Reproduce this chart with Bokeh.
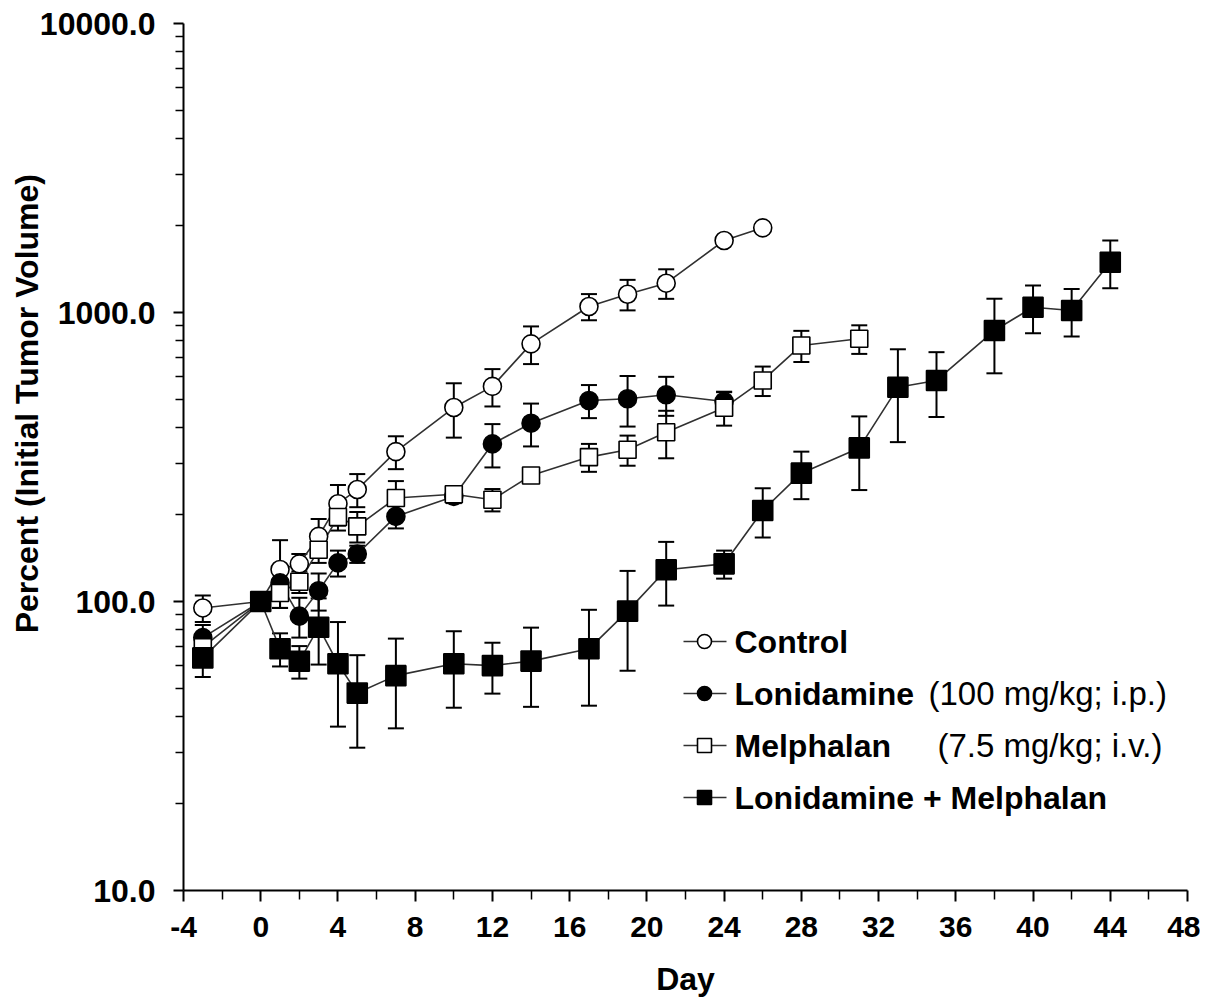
import math
from bokeh.plotting import figure
from bokeh.models import (ColumnDataSource, Whisker, TeeHead, FixedTicker,
                          PrintfTickFormatter, Label)
from bokeh.embed import file_html
from bokeh.resources import INLINE

# ---------------- data ----------------
days_control = [-3, 0, 1, 2, 3, 4, 5, 7, 10, 12, 14, 17, 19, 21, 24, 26]
control = [95, 100, 129, 135, 168, 218, 244, 330, 469, 555, 779, 1049, 1157, 1263, 1775, 1963]
control_err = [10, 0, 34, 11, 25, 35, 32, 43, 100, 82, 116, 109, 140, 148, 0, 0]

days_lon = [-3, 0, 1, 2, 3, 4, 5, 7, 10, 12, 14, 17, 19, 21, 24]
lon = [75, 100, 116, 89, 109, 136, 146, 197, 231, 351, 414, 496, 503, 519, 492]
lon_err = [8, 0, 12, 14, 16, 14, 10, 18, 12, 60, 70, 65, 100, 80, 40]

days_mel = [-3, 0, 1, 2, 3, 4, 5, 7, 10, 12, 14, 17, 19, 21, 24, 26, 28, 31]
mel = [69.5, 100, 107, 117, 151, 196, 182, 228, 235, 225, 273, 316, 335, 385, 468, 582, 769, 811]
mel_err = [6, 0, 12, 10, 15, 20, 22, 33, 10, 20, 10, 35, 40, 72, 62, 68, 95, 92]

days_combo = [-3, 0, 1, 2, 3, 4, 5, 7, 10, 12, 14, 17, 19, 21, 24, 26, 28, 31, 33, 35, 38, 40, 42, 44]
combo = [63.8, 100, 68.6, 62.1, 81.5, 60.9, 48.2, 55.4, 60.9, 60, 62.2, 68.6, 92.6, 128.8,
         135, 206.5, 278, 340, 551, 582, 866, 1043, 1016, 1493]
combo_err = [9, 0, 9, 8, 21, 24, 17, 19, 18, 12, 19, 25, 35, 32, 15, 40, 52, 97, 195, 147,
             250, 196, 190, 280]

x_ticks = [-4, 0, 4, 8, 12, 16, 20, 24, 28, 32, 36, 40, 44, 48]
y_ticks = [10, 100, 1000, 10000]

legend_labels = ["Control", "Lonidamine", "Melphalan", "Lonidamine + Melphalan"]
legend_notes = ["", "(100 mg/kg; i.p.)", "(7.5 mg/kg; i.v.)", ""]

x_title = "Day"
y_title = "Percent (Initial Tumor Volume)"

# ---------------- layout ----------------
W, H = 1200, 1008
LEFT, TOP = 183, 23
FRAME_W, FRAME_H = 1004, 867
RIGHT = W - LEFT - FRAME_W
BOTTOM = H - TOP - FRAME_H
X0, X1 = -4, 48
Y0, Y1 = 10, 10000
FONT = "Liberation Sans"

# canvas-pixel -> data helpers for the hand-drawn legend
PX0, PX1 = LEFT, LEFT + FRAME_W
PY0, PY1 = TOP + FRAME_H, TOP


def dx(px):
    return X0 + (px - PX0) / (PX1 - PX0) * (X1 - X0)


def dy(py):
    lo, hi = math.log10(Y0), math.log10(Y1)
    return 10 ** (lo + (PY0 - py) / (PY0 - PY1) * (hi - lo))


p = figure(width=W, height=H, y_axis_type="log", x_range=(X0, X1), y_range=(Y0, Y1),
           output_backend="svg", toolbar_location=None,
           min_border_left=LEFT, min_border_right=RIGHT,
           min_border_top=TOP, min_border_bottom=BOTTOM)
p.outline_line_color = None
p.grid.visible = False
p.background_fill_color = "white"
p.border_fill_color = "white"

# axes
p.xaxis.ticker = FixedTicker(ticks=x_ticks, minor_ticks=list(range(-2, 48, 4)))
p.xaxis.formatter = PrintfTickFormatter(format="%d")
p.yaxis.ticker = FixedTicker(ticks=y_ticks,
                             minor_ticks=[m * 10 ** k for k in range(1, 4) for m in range(2, 10)])
p.yaxis.formatter = PrintfTickFormatter(format="%.1f")
for ax in (p.xaxis, p.yaxis):
    ax.axis_line_width = 2
    ax.axis_line_color = "black"
    ax.major_tick_line_width = 2
    ax.minor_tick_line_width = 1.5
    ax.major_tick_in = 0
    ax.minor_tick_in = 0
    ax.major_label_text_font = FONT
    ax.major_label_text_font_style = "bold"
    ax.major_label_text_color = "black"
    ax.axis_label_text_font = FONT
    ax.axis_label_text_font_style = "bold"
    ax.axis_label_text_font_size = "32px"
    ax.axis_label_text_color = "black"
p.xaxis.major_tick_out = 11
p.xaxis.minor_tick_out = 9
p.xaxis.major_label_text_font_size = "30px"
p.xaxis.major_label_standoff = 15
p.xaxis.axis_label = x_title
p.xaxis.axis_label_standoff = 21
p.yaxis.major_tick_out = 10
p.yaxis.minor_tick_out = 8
p.yaxis.major_label_text_font_size = "32px"
p.yaxis.major_label_standoff = 18
# leading no-break spaces shift the centred title upwards, as in the original
p.yaxis.axis_label = "\u00a0" * 12 + y_title
p.yaxis.axis_label_standoff = -8

# ---------------- series ----------------
series = [
    (days_control, control, control_err, "circle", "white", 18),
    (days_lon, lon, lon_err, "circle", "black", 18),
    (days_mel, mel, mel_err, "square", "white", 17),
    (days_combo, combo, combo_err, "square", "black", 20),
]

for d, v, e, *_ in series:
    p.line(d, v, line_color="#303030", line_width=1.6)

for d, v, e, *_ in series:
    xs = [a for a, s in zip(d, e) if s > 0]
    up = [b + s for b, s in zip(v, e) if s > 0]
    lo = [b - s for b, s in zip(v, e) if s > 0]
    src = ColumnDataSource(dict(x=xs, upper=up, lower=lo))
    w = Whisker(source=src, base="x", upper="upper", lower="lower",
                line_color="black", line_width=2,
                upper_head=TeeHead(size=16, line_width=2, line_color="black"),
                lower_head=TeeHead(size=16, line_width=2, line_color="black"))
    p.add_layout(w)

for d, v, e, mk, fc, sz in series:
    p.scatter(d, v, marker=mk, size=sz, fill_color=fc, line_color="black", line_width=1.6)

# ---------------- legend (drawn by hand) ----------------
rows_py = [641, 693, 745, 797]
for (d, v, e, mk, fc, sz), py, lab in zip(series, rows_py, legend_labels):
    p.segment(x0=[dx(683)], y0=[dy(py)], x1=[dx(726)], y1=[dy(py)],
              line_color="#303030", line_width=1.6)
    p.scatter([dx(704)], [dy(py)], marker=mk, size=14, fill_color=fc,
              line_color="black", line_width=1.6)
    p.add_layout(Label(x=dx(734), y=dy(py), text=lab, text_font=FONT,
                       text_font_style="bold", text_font_size="32px",
                       text_baseline="middle", text_align="left", text_color="black"))
note_px = {1: 928, 2: 937}
for i, note in enumerate(legend_notes):
    if note:
        p.add_layout(Label(x=dx(note_px[i]), y=dy(rows_py[i]), text=note, text_font=FONT,
                           text_font_size="33px", text_baseline="middle",
                           text_align="left", text_color="black"))

open("out.html", "w").write(file_html(p, INLINE))
